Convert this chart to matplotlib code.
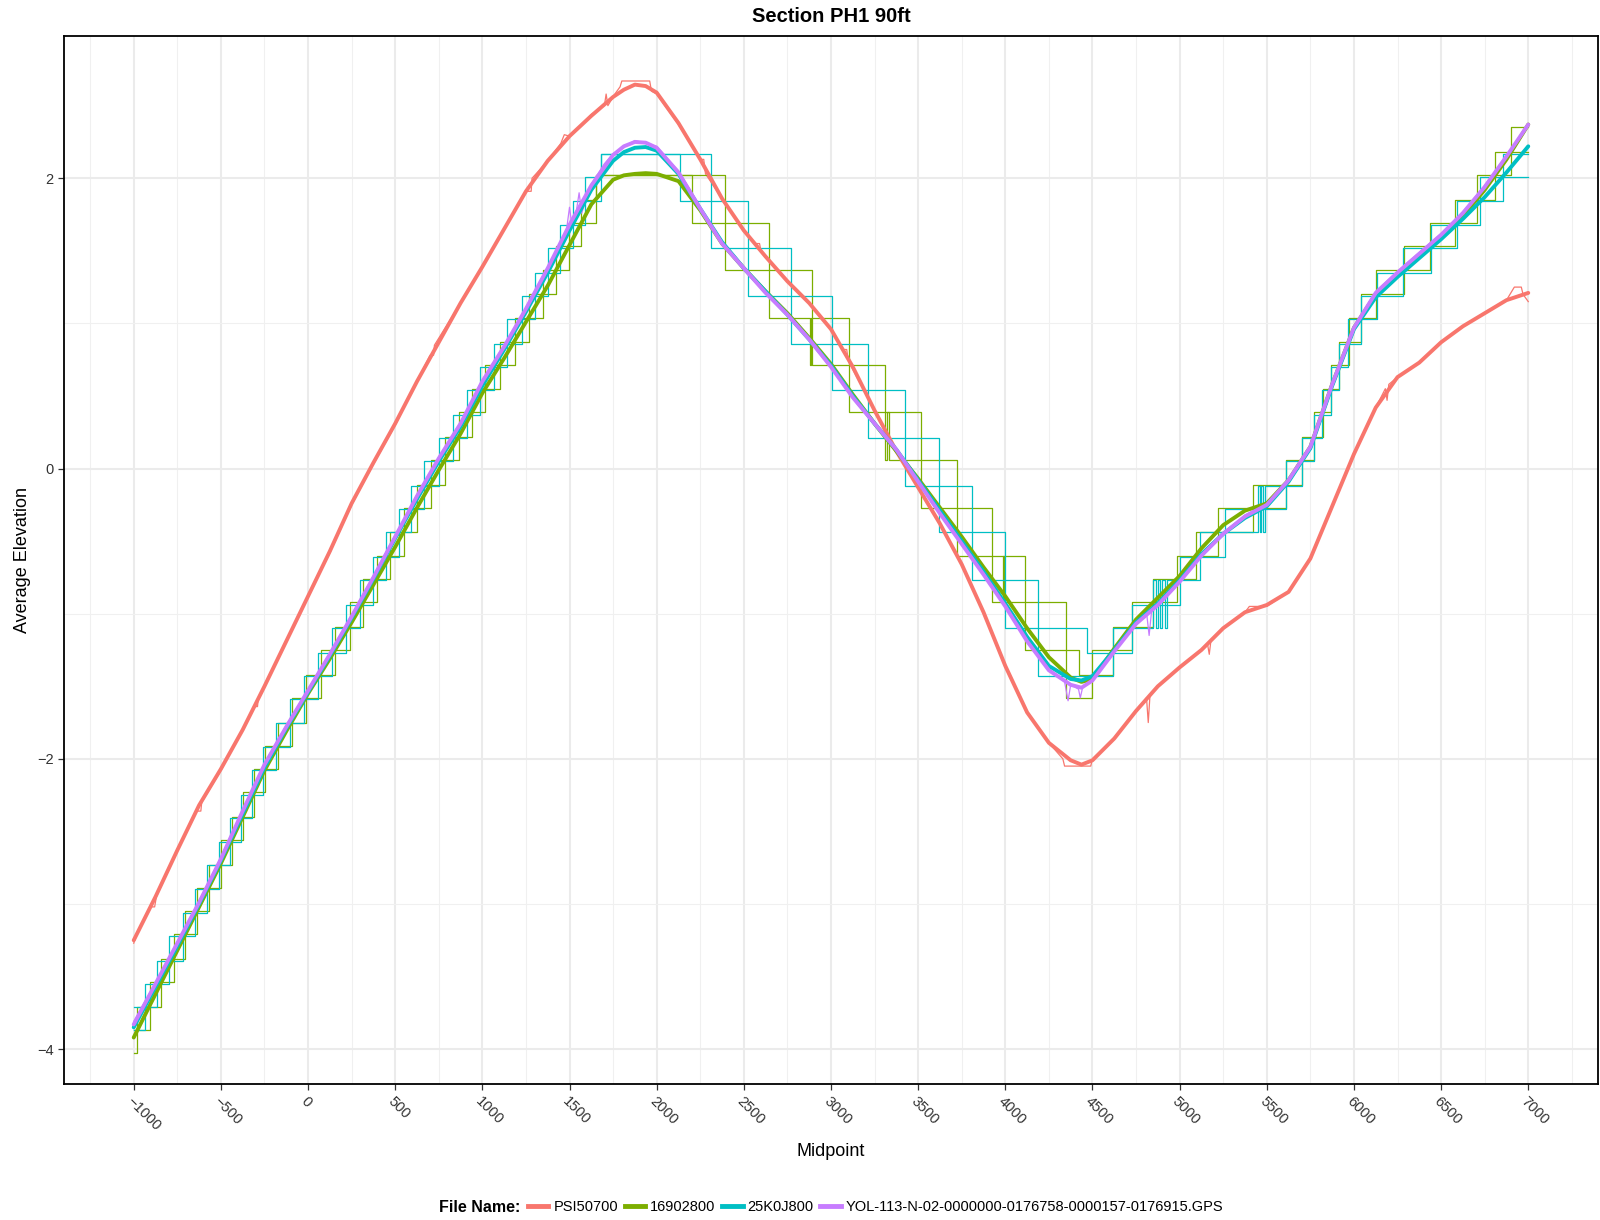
import numpy as np
import matplotlib
matplotlib.use('Agg')
import matplotlib.pyplot as plt
from matplotlib.lines import Line2D
from matplotlib.ticker import MultipleLocator

plt.rcParams['font.family'] = ['Liberation Sans', 'DejaVu Sans']

# file names and their colours
names = ['PSI50700', '16902800', '25K0J800',
         'YOL-113-N-02-0000000-0176758-0000157-0176915.GPS']
colors = ['#F8766D', '#7CAE00', '#00BFC4', '#C77CFF']

# smoothed profiles, every 125 ft of midpoint plus a few extra samples at the turns
mid_x = sorted(list(range(-1000, 7001, 125)) + [1812, 1937, 4437])
red_smooth = [-3.25, -2.95, -2.63, -2.32, -2.07, -1.80, -1.50, -1.19, -0.88, -0.57, -0.24, 0.04,
              0.31, 0.60, 0.87, 1.14, 1.39, 1.65, 1.91, 2.12, 2.29, 2.43, 2.56, 2.61, 2.645, 2.635,
              2.59, 2.38, 2.13, 1.86, 1.64, 1.46, 1.29, 1.14, 0.96, 0.70, 0.40, 0.12, -0.13, -0.38,
              -0.66, -0.99, -1.36, -1.68, -1.89, -2.01, -2.04, -2.01, -1.86, -1.67, -1.50, -1.37,
              -1.25, -1.10, -0.99, -0.94, -0.85, -0.62, -0.26, 0.10, 0.42, 0.63, 0.73, 0.87, 0.98,
              1.07, 1.16, 1.21]
green_smooth = [-3.92, -3.62, -3.32, -3.02, -2.72, -2.40, -2.08, -1.81, -1.55, -1.31, -1.06, -0.80,
                -0.54, -0.27, -0.01, 0.24, 0.52, 0.76, 1.01, 1.26, 1.54, 1.82, 1.99, 2.02, 2.03,
                2.035, 2.03, 1.98, 1.78, 1.55, 1.38, 1.22, 1.07, 0.90, 0.72, 0.51, 0.31, 0.12, -0.07,
                -0.27, -0.47, -0.68, -0.88, -1.10, -1.30, -1.44, -1.47, -1.45, -1.24, -1.04, -0.89,
                -0.74, -0.55, -0.39, -0.29, -0.24, -0.08, 0.15, 0.58, 0.97, 1.20, 1.33, 1.46, 1.60,
                1.74, 1.92, 2.13, 2.37]
cyan_smooth = [-3.85, -3.57, -3.29, -3.00, -2.70, -2.38, -2.06, -1.79, -1.54, -1.29, -1.03, -0.76,
               -0.48, -0.21, 0.05, 0.29, 0.57, 0.82, 1.08, 1.35, 1.64, 1.92, 2.12, 2.18, 2.21, 2.215,
               2.19, 2.03, 1.79, 1.56, 1.38, 1.22, 1.06, 0.89, 0.71, 0.50, 0.31, 0.13, -0.08, -0.29,
               -0.50, -0.71, -0.93, -1.16, -1.36, -1.45, -1.46, -1.43, -1.25, -1.06, -0.93, -0.77,
               -0.59, -0.45, -0.34, -0.26, -0.09, 0.14, 0.57, 0.96, 1.18, 1.32, 1.45, 1.58, 1.72,
               1.87, 2.04, 2.22]
purple_smooth = [-3.83, -3.55, -3.27, -2.99, -2.69, -2.36, -2.04, -1.78, -1.53, -1.28, -1.02, -0.75,
                 -0.47, -0.19, 0.07, 0.31, 0.60, 0.84, 1.10, 1.38, 1.68, 1.95, 2.16, 2.22, 2.25,
                 2.245, 2.21, 2.04, 1.79, 1.55, 1.38, 1.21, 1.06, 0.89, 0.70, 0.49, 0.31, 0.13,
                 -0.09, -0.31, -0.52, -0.73, -0.95, -1.19, -1.39, -1.49, -1.51, -1.46, -1.26, -1.07,
                 -0.94, -0.78, -0.60, -0.45, -0.33, -0.25, -0.08, 0.15, 0.58, 0.97, 1.21, 1.35, 1.48,
                 1.61, 1.76, 1.94, 2.15, 2.37]

# raw traces: PSI50700 and the GPS file are continuous
red_raw_x = [-1000, -985, -900, -880, -870, -750, -640, -615, -610, -500, -375, -310, -290, -285,
             -125, 0, 125, 250, 375, 500, 625, 700, 720, 725, 875, 1000, 1125, 1250, 1280, 1285,
             1375, 1450, 1470, 1500, 1625, 1700, 1710, 1720, 1760, 1790, 1800, 1960, 1970, 2000,
             2125, 2250, 2270, 2280, 2375, 2500, 2560, 2590, 2600, 2750, 2875, 3000, 3070, 3090,
             3100, 3250, 3375, 3500, 3625, 3750, 3875, 4000, 4125, 4250, 4330, 4340, 4490, 4500,
             4625, 4750, 4810, 4820, 4830, 4875, 5000, 5125, 5160, 5170, 5180, 5250, 5375, 5400,
             5500, 5625, 5750, 5875, 6000, 6125, 6180, 6190, 6200, 6250, 6375, 6500, 6625, 6750,
             6875, 6920, 6960, 6970, 7000]
red_raw_y = [-3.27, -3.22, -3.02, -3.02, -2.95, -2.63, -2.36, -2.36, -2.30, -2.08, -1.80, -1.64,
             -1.64, -1.58, -1.19, -0.88, -0.58, -0.25, 0.03, 0.30, 0.60, 0.78, 0.78, 0.85, 1.14,
             1.39, 1.65, 1.91, 1.91, 2.00, 2.12, 2.24, 2.30, 2.29, 2.44, 2.50, 2.58, 2.50, 2.58,
             2.63, 2.67, 2.67, 2.60, 2.58, 2.37, 2.13, 2.13, 2.03, 1.86, 1.64, 1.55, 1.55, 1.49,
             1.29, 1.14, 0.96, 0.82, 0.82, 0.74, 0.40, 0.12, -0.13, -0.38, -0.66, -0.99, -1.36,
             -1.68, -1.89, -2.00, -2.05, -2.05, -2.00, -1.86, -1.67, -1.58, -1.75, -1.56, -1.50,
             -1.37, -1.25, -1.21, -1.28, -1.18, -1.10, -0.99, -0.95, -0.95, -0.85, -0.62, -0.26,
             0.10, 0.42, 0.55, 0.47, 0.58, 0.63, 0.73, 0.87, 0.98, 1.07, 1.16, 1.25, 1.25, 1.20,
             1.15]
purple_raw_x = [-1000, -875, -750, -625, -500, -375, -250, -125, 0, 125, 250, 375, 500, 625, 750,
                875, 1000, 1125, 1250, 1375, 1480, 1500, 1515, 1540, 1555, 1570, 1625, 1700, 1750,
                1875, 2000, 2125, 2250, 2375, 2500, 2625, 2750, 2875, 3000, 3125, 3250, 3375, 3500,
                3625, 3750, 3875, 4000, 4125, 4250, 4340, 4360, 4375, 4420, 4430, 4445, 4500, 4625,
                4750, 4810, 4825, 4840, 4875, 5000, 5125, 5250, 5375, 5500, 5625, 5750, 5875, 6000,
                6125, 6250, 6375, 6500, 6625, 6750, 6875, 7000]
purple_raw_y = [-3.81, -3.54, -3.26, -2.98, -2.68, -2.35, -2.03, -1.77, -1.52, -1.27, -1.01, -0.74,
                -0.46, -0.18, 0.08, 0.32, 0.61, 0.85, 1.11, 1.39, 1.62, 1.80, 1.66, 1.78, 1.90, 1.76,
                1.96, 2.10, 2.17, 2.26, 2.22, 2.05, 1.80, 1.56, 1.39, 1.22, 1.07, 0.90, 0.71, 0.50,
                0.32, 0.14, -0.08, -0.30, -0.51, -0.72, -0.94, -1.18, -1.38, -1.47, -1.60, -1.49,
                -1.52, -1.58, -1.50, -1.45, -1.25, -1.06, -0.99, -1.15, -0.97, -0.93, -0.77, -0.59,
                -0.44, -0.32, -0.24, -0.07, 0.16, 0.59, 0.98, 1.22, 1.36, 1.49, 1.62, 1.77, 1.95,
                2.16, 2.36]

# raw traces: 16902800 and 25K0J800 are quantised; two readings per file,
# each given as (start of level, level)
green_raw_x = [-1000, -908, -771, -637, -500, -372, -245, -91, 73, 240, 394, 551, 707, 865, 1016,
               1185, 1345, 1496, 1654, 1710, 2200, 2390, 2642, 2880, 2886, 2892, 3101, 3309, 3322,
               3330, 3519, 3725, 3925, 3985, 3992, 4114, 4348, 4400, 4500, 4725, 4983, 5219, 5609,
               5770, 5866, 5971, 6125, 6438, 6708, 6901, 7000]
green_raw_y = [-3.87, -3.54, -3.21, -2.89, -2.56, -2.23, -1.91, -1.58, -1.25, -0.92, -0.60, -0.27,
               0.06, 0.39, 0.71, 1.04, 1.37, 1.69, 2.02, 2.02, 1.69, 1.37, 1.04, 0.71, 1.04, 0.71,
               0.39, 0.06, 0.39, 0.06, -0.27, -0.60, -0.92, -0.60, -0.92, -1.25, -1.58, -1.58,
               -1.25, -0.92, -0.60, -0.27, 0.06, 0.39, 0.71, 1.04, 1.37, 1.69, 2.02, 2.35, 2.35]
green_raw2_x = [-1000, -979, -842, -704, -571, -437, -309, -171, -14, 155, 317, 471, 625, 785, 942,
                1099, 1265, 1424, 1567, 1654, 2200, 2390, 2642, 2889, 3101, 3309, 3519, 3725, 3925,
                4114, 4348, 4420, 4619, 4850, 5092, 5420, 5701, 5820, 5917, 6038, 6288, 6580, 6810,
                7000]
green_raw2_y = [-4.03, -3.71, -3.38, -3.05, -2.73, -2.40, -2.07, -1.75, -1.42, -1.09, -0.76, -0.44,
                -0.11, 0.22, 0.55, 0.87, 1.20, 1.53, 1.85, 2.02, 2.02, 1.69, 1.37, 1.04, 0.71, 0.39,
                0.06, -0.27, -0.60, -0.92, -1.25, -1.42, -1.09, -0.76, -0.44, -0.11, 0.22, 0.55,
                0.87, 1.20, 1.53, 1.85, 2.18, 2.18]
cyan_raw_x = [-1000, -866, -720, -579, -449, -320, -181, -25, 139, 296, 446, 593, 750, 911, 1065,
              1226, 1375, 1518, 1681, 1730, 2135, 2310, 2523, 2772, 3006, 3211, 3423, 3619, 3810,
              4000, 4188, 4240, 4618, 4850, 4862, 4874, 4888, 4900, 4915, 4928, 5118, 5450, 5460,
              5468, 5478, 5490, 5701, 5817, 5917, 6040, 6279, 6589, 6853, 7000]
cyan_raw_y = [-3.71, -3.39, -3.06, -2.73, -2.41, -2.08, -1.75, -1.43, -1.10, -0.77, -0.44, -0.12,
              0.21, 0.54, 0.86, 1.19, 1.52, 1.84, 2.17, 2.17, 1.84, 1.52, 1.19, 0.86, 0.54, 0.21,
              -0.12, -0.44, -0.77, -1.10, -1.43, -1.43, -1.10, -0.77, -1.10, -0.77, -1.10, -0.77,
              -1.10, -0.77, -0.44, -0.12, -0.44, -0.12, -0.44, -0.12, 0.21, 0.54, 0.86, 1.19,
              1.52, 1.84, 2.17, 2.17]
cyan_raw2_x = [-1000, -937, -795, -651, -512, -387, -258, -105, 55, 216, 370, 519, 668, 833, 987,
               1144, 1301, 1448, 1589, 1681, 2135, 2310, 2523, 2772, 3006, 3211, 3423, 3619, 3810,
               4000, 4188, 4470, 4724, 5000, 5261, 5609, 5770, 5866, 5968, 6134, 6442, 6725, 7000]
cyan_raw2_y = [-3.87, -3.55, -3.22, -2.90, -2.57, -2.25, -1.92, -1.59, -1.27, -0.94, -0.61, -0.28,
               0.05, 0.37, 0.70, 1.03, 1.35, 1.68, 2.01, 2.17, 2.17, 1.84, 1.52, 1.19, 0.86, 0.54,
               0.21, -0.12, -0.44, -0.77, -1.10, -1.27, -0.94, -0.61, -0.28, 0.05, 0.37, 0.70,
               1.03, 1.35, 1.68, 2.01, 2.01]

fig = plt.figure(figsize=(16, 12.2), dpi=100)
ax = fig.add_axes([0.04, 0.1115, 0.95875, 0.859])

raw_kw = dict(lw=0.9, zorder=2)
ax.plot(red_raw_x, red_raw_y, color=colors[0], **raw_kw)
for xs, ys in [(green_raw_x, green_raw_y), (green_raw2_x, green_raw2_y)]:
    ax.plot(xs, ys, drawstyle='steps-post', color=colors[1], **raw_kw)
for xs, ys in [(cyan_raw_x, cyan_raw_y), (cyan_raw2_x, cyan_raw2_y)]:
    ax.plot(xs, ys, drawstyle='steps-post', color=colors[2], **raw_kw)
ax.plot(purple_raw_x, purple_raw_y, color=colors[3], **raw_kw)

for ys, c in zip([red_smooth, green_smooth, cyan_smooth, purple_smooth], colors):
    ax.plot(mid_x, ys, color=c, lw=2.8, solid_capstyle='round', solid_joinstyle='round',
            zorder=3)

ax.set_xlim(-1400, 7400)
ax.set_ylim(-4.24, 2.98)
ax.xaxis.set_major_locator(MultipleLocator(500))
ax.xaxis.set_minor_locator(MultipleLocator(250))
ax.yaxis.set_major_locator(MultipleLocator(2))
ax.yaxis.set_minor_locator(MultipleLocator(1))
ax.set_axisbelow(True)
ax.grid(which='major', color='#EBEBEB', lw=1.5)
ax.grid(which='minor', color='#F0F0F0', lw=0.8)
ax.tick_params(which='major', direction='out', length=4, width=0.9, color='#333333',
               labelsize=10.5, labelcolor='#333333')
ax.tick_params(which='minor', length=0)
for lab in ax.get_xticklabels():
    lab.set_rotation(-45)
    lab.set_ha('left')
    lab.set_va('top')
    lab.set_rotation_mode('anchor')
for sp in ax.spines.values():
    sp.set_color('black')
    sp.set_linewidth(1.3)

ax.set_xlabel('Midpoint', fontsize=13, labelpad=7)
ax.set_ylabel('Average Elevation', fontsize=13, labelpad=4)
ax.set_title('Section PH1 90ft', fontsize=14.5, fontweight='bold', pad=10)

# legend along the bottom, title on the left
handles = [Line2D([0], [0], color=c, lw=3.5) for c in colors]
leg_y = 1 - 1207 / 1220
leg = fig.legend(handles, names, loc='center left', bbox_to_anchor=(0.5, leg_y), ncol=4,
                 frameon=False, fontsize=10.5, borderpad=0, borderaxespad=0, handlelength=1.4,
                 handletextpad=0.35, columnspacing=0.45)
ttl = fig.text(0.5, leg_y, 'File Name:', fontsize=11.5, fontweight='bold', va='center')
fig.canvas.draw()
r = fig.canvas.get_renderer()
w_leg = leg.get_window_extent(r).width
w_ttl = ttl.get_window_extent(r).width
gap = 8
centre = (0.04 + 0.95875 / 2) * 1600
left = centre - (w_ttl + gap + w_leg) / 2
ttl.set_x(left / 1600)
leg.set_bbox_to_anchor(((left + w_ttl + gap) / 1600, leg_y), transform=fig.transFigure)

fig.savefig('out.png', dpi=100)
